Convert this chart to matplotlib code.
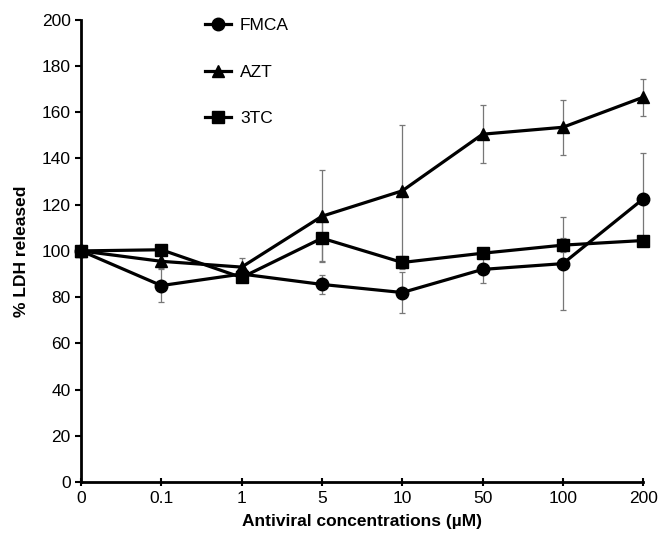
import matplotlib
matplotlib.use("Agg")
import matplotlib.pyplot as plt

plt.rcParams["font.family"] = ["Liberation Sans", "DejaVu Sans"]

conc_labels = ["0", "0.1", "1", "5", "10", "50", "100", "200"]

fmca = [100, 85, 90, 85.5, 82, 92, 94.5, 122.5]
fmca_err = [0, 7, 2, 4, 9, 6, 20, 20]

azt = [100, 95.5, 93, 115, 126, 150.5, 153.5, 166.5]
azt_err = [0, 3, 4, 20, 28.5, 12.5, 12, 8]

tc3 = [100, 100.5, 88.5, 105.5, 95, 99, 102.5, 104.5]
tc3_err = [0, 2, 2, 10, 3, 2, 3, 2]

fig = plt.figure(figsize=(6.59, 5.35), dpi=100)
ax = fig.add_axes([0.123, 0.099, 0.853, 0.864])

x = list(range(len(conc_labels)))
series = [("FMCA", fmca, fmca_err, "o"),
          ("AZT", azt, azt_err, "^"),
          ("3TC", tc3, tc3_err, "s")]

for name, vals, err, mk in series:
    eb = ax.errorbar(x, vals, yerr=err, fmt="none", ecolor="#777777",
                     elinewidth=0.9, capsize=2.5, capthick=0.9, zorder=2)
    for art in eb.lines[1] + eb.lines[2]:
        art.set_clip_on(False)
    ax.plot(x, vals, color="black", lw=2.3, marker=mk, markersize=9,
            label=name, zorder=3, clip_on=False)

ax.set_xlim(0, 7)
ax.set_ylim(0, 200)
ax.set_xticks(x)
ax.set_xticklabels(conc_labels)
ax.set_yticks(range(0, 201, 20))
ax.tick_params(axis="both", labelsize=12.5, width=1.5, length=4)
ax.tick_params(axis="x", direction="inout", length=6)

for s in ["top", "right"]:
    ax.spines[s].set_visible(False)
for s in ["left", "bottom"]:
    ax.spines[s].set_linewidth(2)

ax.set_xlabel("Antiviral concentrations (\u00b5M)", fontsize=12.5, fontweight="bold",
              labelpad=6)
ax.set_ylabel("% LDH released", fontsize=12.5, fontweight="bold", labelpad=9)

ax.legend(loc="upper left", bbox_to_anchor=(0.193, 1.037), frameon=False,
          fontsize=12.5, handlelength=1.5, labelspacing=1.8, handletextpad=0.5)

fig.savefig("out.png", dpi=100)
